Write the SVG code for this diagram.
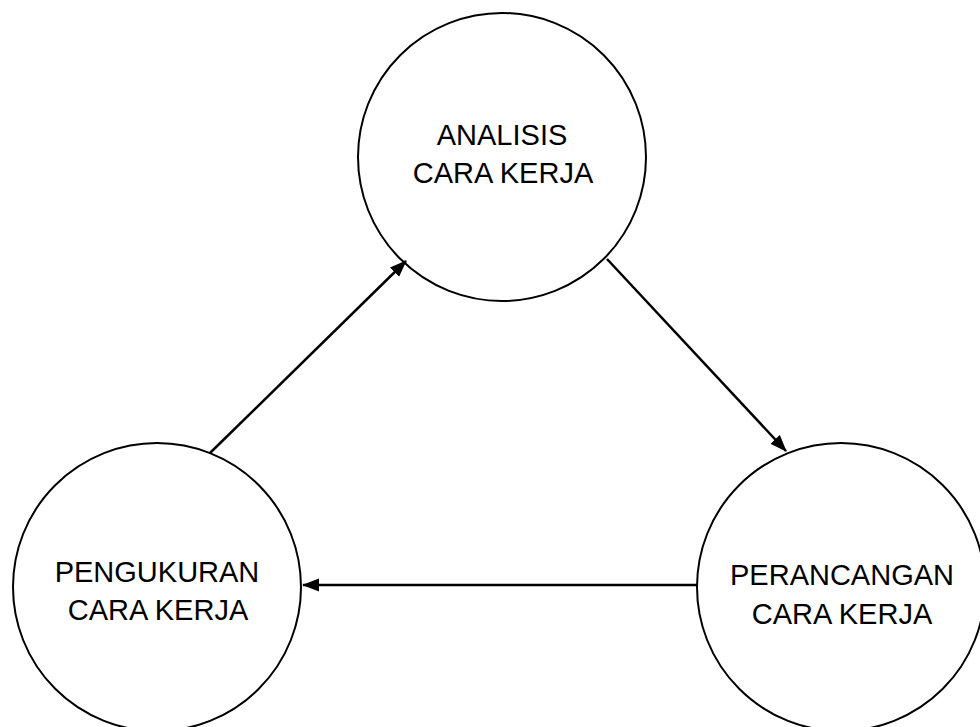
<svg xmlns="http://www.w3.org/2000/svg" width="980" height="727" viewBox="0 0 980 727">
<style>
.node circle{fill:#fff;stroke:#000;stroke-width:2}
.node text{font-family:"Liberation Sans",Arial,sans-serif;font-size:29px;fill:#000;text-anchor:middle}
.conn line{stroke:#000;stroke-width:2.5;fill:none;marker-end:url(#arr)}
</style>
<defs>
<marker id="arr" markerUnits="userSpaceOnUse" markerWidth="18" markerHeight="14" refX="16" refY="6.5" orient="auto" viewBox="0 0 18 14">
<path d="M0,0 L17,6.5 L0,13 z" fill="#000"/>
</marker>
</defs>
<g id="analisis" class="node">
<circle cx="502" cy="157" r="144"/>
<text x="502" y="145">ANALISIS</text>
<text x="503" y="183">CARA KERJA</text>
</g>
<g id="pengukuran" class="node">
<circle cx="157" cy="587" r="144"/>
<text x="157" y="582">PENGUKURAN</text>
<text x="158" y="620">CARA KERJA</text>
</g>
<g id="perancangan" class="node">
<circle cx="841" cy="587" r="144"/>
<text x="842" y="585">PERANCANGAN</text>
<text x="842" y="624">CARA KERJA</text>
</g>
<g id="connectors" class="conn">
<line x1="210" y1="453" x2="406" y2="261"/>
<line x1="607" y1="259" x2="786" y2="451"/>
<line x1="697" y1="585" x2="303" y2="585"/>
</g>
</svg>
